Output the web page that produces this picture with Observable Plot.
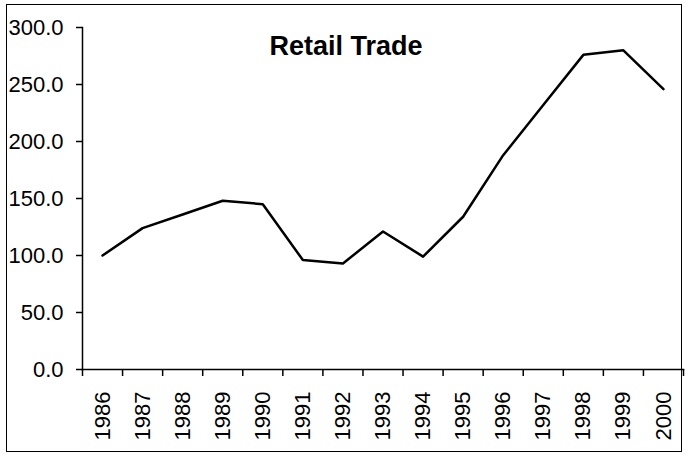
<!DOCTYPE html>
<html>
<head>
<meta charset="utf-8">
<script src="https://cdn.jsdelivr.net/npm/d3@7"></script>
<script src="https://cdn.jsdelivr.net/npm/@observablehq/plot@0.6"></script>
<style>
  html, body { margin: 0; padding: 0; background: #fff; }
  #wrap { position: relative; width: 693px; height: 456px; }
  #border { position: absolute; left: 6px; top: 4px; width: 676px; height: 448px; border: 1.5px solid #000; box-sizing: border-box; pointer-events: none; }
</style>
</head>
<body>
<div id="wrap"><div id="border"></div></div>
<script>
const title = "Retail Trade";
const years = [1986, 1987, 1988, 1989, 1990, 1991, 1992, 1993, 1994, 1995, 1996, 1997, 1998, 1999, 2000];
const values = [100, 124, 136, 148, 145, 96, 93, 121, 99, 134, 188, 232, 276, 280, 246];
const yTicks = [0, 50, 100, 150, 200, 250, 300];

const data = years.map((year, i) => ({year, value: values[i]}));
const edges = years.map(y => y - 0.5).concat([years[years.length - 1] + 0.5]);

const chart = Plot.plot({
  width: 693,
  height: 456,
  marginLeft: 82,
  marginRight: 10,
  marginTop: 27,
  marginBottom: 87,
  style: {background: "transparent", color: "#000", fontFamily: "'Liberation Sans', Arial, sans-serif"},
  x: {domain: [edges[0], edges[edges.length - 1]]},
  y: {domain: [0, 300]},
  marks: [
    Plot.frame({anchor: "left", stroke: "#000", strokeWidth: 1.5}),
    Plot.frame({anchor: "bottom", stroke: "#000", strokeWidth: 1.5}),
    Plot.axisY(yTicks, {tickFormat: d => d.toFixed(1), tickSize: 6, tickPadding: 13, fontSize: 22, label: null, strokeWidth: 1.5}),
    Plot.axisX(edges, {tickSize: 7, tickFormat: () => "", label: null, strokeWidth: 1.5}),
    Plot.axisX(years, {tickSize: 0, tickRotate: -90, tickPadding: 22, tickFormat: d => String(d), fontSize: 22, label: null}),
    Plot.line(data, {x: "year", y: "value", stroke: "#000", strokeWidth: 2.5}),
    Plot.text([title], {frameAnchor: "top", dx: -37, dy: 27, lineAnchor: "bottom", fontSize: 27, fontWeight: "bold", fill: "#000"})
  ]
});
document.getElementById("wrap").prepend(chart);
</script>
</body>
</html>
